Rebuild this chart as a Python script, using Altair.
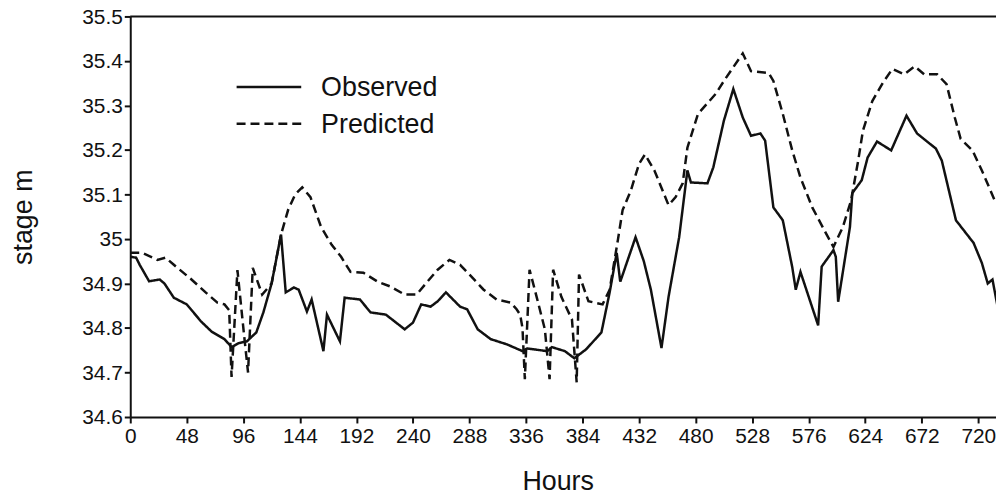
import altair as alt
import pandas as pd

FONT = "Liberation Sans"
INK = "#111111"

series_names = ["Observed", "Predicted"]

obs_hours = [0, 5, 8, 16, 25, 29, 37, 48, 60, 69, 80, 86, 92, 99, 107, 113, 120, 128,
             132, 139, 143, 150, 154, 164, 167, 178, 182, 195, 204, 217, 233, 240,
             247, 255, 261, 268, 280, 286, 295, 306, 320, 333, 337, 354, 358, 369,
             377, 387, 400, 407, 413, 416, 429, 436, 442, 451, 457, 466, 473, 476,
             490, 495, 504, 512, 520, 527, 535, 539, 546, 554, 562, 565, 569, 584,
             587, 597, 599, 601, 611, 613, 621, 626, 634, 646, 659, 668, 684, 689,
             701, 716, 723, 728, 732, 736]
obs_stage = [34.96, 34.958, 34.942, 34.905, 34.909, 34.90, 34.868, 34.853, 34.815,
             34.792, 34.775, 34.757, 34.766, 34.77, 34.79, 34.835, 34.90, 35.01,
             34.88, 34.891, 34.886, 34.837, 34.864, 34.748, 34.83, 34.77, 34.868,
             34.864, 34.835, 34.83, 34.797, 34.812, 34.853, 34.848, 34.86, 34.88,
             34.848, 34.842, 34.797, 34.775, 34.763, 34.748, 34.754, 34.748, 34.757,
             34.748, 34.732, 34.752, 34.79, 34.88, 34.969, 34.904, 35.004, 34.95,
             34.886, 34.755, 34.87, 35.004, 35.154, 35.127, 35.125, 35.161, 35.266,
             35.337, 35.273, 35.232, 35.237, 35.221, 35.071, 35.042, 34.937, 34.886,
             34.926, 34.806, 34.938, 34.975, 34.96, 34.859, 35.027, 35.103, 35.132,
             35.183, 35.219, 35.199, 35.277, 35.237, 35.203, 35.176, 35.042, 34.991,
             34.946, 34.90, 34.909, 34.853]

pred_hours = [0, 10, 23, 30, 37, 52, 64, 74, 80, 84, 86, 91, 96, 100, 104, 112, 120,
              128, 134, 140, 146, 153, 162, 171, 179, 187, 198, 210, 221, 233, 243,
              250, 261, 271, 280, 288, 300, 311, 323, 328, 331, 333, 335, 339, 345,
              352, 356, 359, 366, 375, 379, 381, 389, 401, 407, 414, 418, 425, 432,
              437, 445, 457, 463, 469, 473, 482, 497, 505, 520, 527, 542, 546, 554,
              562, 569, 579, 590, 597, 605, 612, 618, 622, 630, 639, 647, 657, 666,
              674, 685, 693, 700, 705, 715, 723, 735]
pred_stage = [34.969, 34.969, 34.953, 34.958, 34.942, 34.909, 34.88, 34.857, 34.853,
              34.84, 34.69, 34.93, 34.80, 34.70, 34.935, 34.875, 34.90, 35.01, 35.065,
              35.10, 35.116, 35.094, 35.027, 34.987, 34.96, 34.926, 34.924, 34.904,
              34.893, 34.875, 34.875, 34.897, 34.931, 34.953, 34.942, 34.92, 34.886,
              34.864, 34.857, 34.842, 34.83, 34.80, 34.685, 34.931, 34.87, 34.797,
              34.685, 34.931, 34.87, 34.819, 34.678, 34.92, 34.86, 34.853, 34.886,
              34.998, 35.065, 35.109, 35.169, 35.19, 35.154, 35.076, 35.094, 35.125,
              35.205, 35.281, 35.326, 35.359, 35.417, 35.377, 35.373, 35.355, 35.281,
              35.199, 35.138, 35.071, 35.016, 34.982, 35.027, 35.087, 35.176, 35.243,
              35.31, 35.351, 35.382, 35.37, 35.388, 35.37, 35.37, 35.348, 35.273,
              35.225, 35.199, 35.154, 35.08]

x_ticks = [0, 48, 96, 144, 192, 240, 288, 336, 384, 432, 480, 528, 576, 624, 672, 720]
y_ticks = [34.6, 34.7, 34.8, 34.9, 35.0, 35.1, 35.2, 35.3, 35.4, 35.5]

W, H = 871, 403
X_MAX = 735

df = pd.concat([
    pd.DataFrame({"hours": obs_hours, "stage": obs_stage, "series": series_names[0]}),
    pd.DataFrame({"hours": pred_hours, "stage": pred_stage, "series": series_names[1]}),
], ignore_index=True)

dash_scale = alt.Scale(domain=series_names, range=[[1, 0], [9, 5]])

x_axis = alt.Axis(values=x_ticks, title="Hours", titleFont=FONT, titleFontSize=27,
                  titleFontWeight="normal", titleColor=INK, titleX=430, titleY=73,
                  titleBaseline="alphabetic", titleAlign="center",
                  labelFont=FONT, labelFontSize=21, labelColor=INK, labelPadding=3,
                  labelFlush=False, labelOverlap=False,
                  tickSize=6, tickWidth=2, tickColor=INK,
                  domainWidth=2, domainColor=INK, grid=False)
y_axis = alt.Axis(values=y_ticks, format=".1~f", title="stage m", titleFont=FONT,
                  titleFontSize=27, titleFontWeight="normal", titleColor=INK,
                  titleAngle=270, titleX=-107, titleY=H / 2, titleBaseline="middle",
                  titleAlign="center",
                  labelFont=FONT, labelFontSize=21, labelColor=INK, labelPadding=2,
                  labelOffset=1,
                  tickSize=6, tickWidth=2, tickColor=INK,
                  domainWidth=2, domainColor=INK, grid=False)

lines = alt.Chart(df).mark_line(strokeWidth=2.5, color=INK, clip=True).encode(
    x=alt.X("hours:Q", scale=alt.Scale(domain=[0, X_MAX], nice=False, zero=False), axis=x_axis),
    y=alt.Y("stage:Q", scale=alt.Scale(domain=[34.6, 35.5], nice=False, zero=False), axis=y_axis),
    strokeDash=alt.StrokeDash("series:N", scale=dash_scale, legend=None),
    detail="series:N",
    order="hours:Q",
)

top_frame = alt.Chart(pd.DataFrame({"edge": ["top"]})).mark_rule(
    strokeWidth=2, color=INK).encode(x=alt.value(0), x2=alt.value(W), y=alt.value(0))

legend_rows = [71, 108]
legend_layers = []
for i, name in enumerate(series_names):
    ldf = pd.DataFrame({"series": [name]})
    legend_layers.append(
        alt.Chart(ldf).mark_rule(strokeWidth=2.5, color=INK).encode(
            x=alt.value(107), x2=alt.value(172), y=alt.value(legend_rows[i]),
            strokeDash=alt.StrokeDash("series:N", scale=dash_scale, legend=None))
    )
    legend_layers.append(
        alt.Chart(ldf).mark_text(align="left", baseline="middle", font=FONT,
                                 fontSize=27, color=INK).encode(
            x=alt.value(192), y=alt.value(legend_rows[i] + 1), text="series:N")
    )

chart = alt.layer(lines, top_frame, *legend_layers).properties(
    width=W, height=H,
    autosize=alt.AutoSizeParams(type="none"),
    padding={"left": 123, "top": 7, "right": 0, "bottom": 82},
    background="white",
).configure_view(stroke=None)

chart.save("out.html", embed_options={"renderer": "svg", "actions": False})
